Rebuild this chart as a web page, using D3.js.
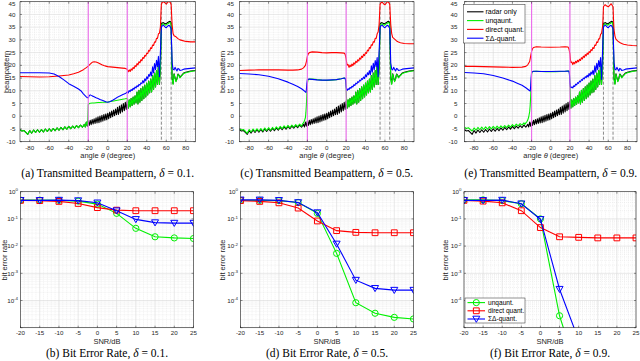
<!DOCTYPE html>
<html>
<head>
<meta charset="utf-8">
<script src="https://cdn.jsdelivr.net/npm/d3@7"></script>
<style>
  body { margin: 0; background: #fff; }
  svg { display: block; }
  text { font-family: "Liberation Sans", Arial, sans-serif; }
</style>
</head>
<body>
<svg class="fig" width="640" height="361"></svg>
<script>
// ---------- data ----------
var angleTicks = [-80, -60, -40, -20, 0, 20, 40, 60, 80];
var beamTicks = [-10, -5, 0, 5, 10, 15, 20, 25, 30, 35, 40, 45];
var snrTicks = [-20, -15, -10, -5, 0, 5, 10, 15, 20, 25];
var berTickExps = [0, -1, -2, -3, -4];
var sectorEdges = [-20, 20];     // magenta lines
var targetEdges = [55, 65];      // dashed lines

// radar only (same in all three beampattern panels)
var radarOnly = [
  [-90,-5.3],[-88,-5.8],[-86,-5.6],[-84,-6.3],[-82,-7.1],[-80,-5.6],[-78,-6.6],[-76,-5.4],[-74,-6.4],[-72,-5.3],
  [-70,-6.3],[-68,-5.2],[-66,-6.2],[-64,-5.0],[-62,-6.0],[-60,-4.9],[-58,-5.9],[-56,-4.8],[-54,-5.7],[-52,-4.6],
  [-50,-5.5],[-48,-4.4],[-46,-5.3],[-44,-4.2],[-42,-5.1],[-40,-4.0],[-38,-4.9],[-36,-3.9],[-34,-4.7],[-32,-3.7],
  [-30,-4.5],[-28,-3.5],[-26,-4.3],[-24,-3.2],
  [-23,-4.2],[-22,-2.3],[-21,-3.9],[-20,-1.9],[-19,-3.6],[-18,-1.6],[-17,-3.3],[-16,-1.3],[-15,-3.0],[-14,-1.0],
  [-13,-2.8],[-12,-0.6],[-11,-2.6],[-10,-0.2],[-9,-2.5],[-8,0.1],[-7,-2.2],[-6,0.4],[-5,-1.9],[-4,0.7],
  [-3,-1.6],[-2,0.9],[-1,-1.4],[0,1.2],[1,-1.0],[2,1.6],[3,-0.6],[4,2.0],[5,-0.2],[6,2.4],
  [7,0.2],[8,2.8],[9,0.6],[10,3.5],[11,0.7],[12,4.0],[13,1.2],[14,4.5],[15,1.7],[16,5.0],
  [17,2.2],[18,5.5],[19,2.7],[20,6.0],[21,3.2],[22,6.5],[23,3.7],[24,7.0],[25,4.2],[26,7.5],
  [27,4.7],[28,8.0],[29,5.2],[30,9.5],[31,4.8],[32,10.2],[33,5.5],[34,10.9],[35,6.2],[36,11.6],
  [37,6.9],[38,12.3],[39,7.6],[40,13.0],[41,8.4],[42,13.8],[43,9.2],[44,14.6],[45,9.5],[46,16.0],
  [47,10.5],[48,17.0],[49,11.5],[50,18.0],[51,12.5],[52,20.5],[53,12.5],[54,19.0],
  [54.5,28],[55,36.3],[56,36.6],[57,36.8],[58,36.5],[59,36.3],[60,36.4],[61,36.7],[62,36.9],[63,37.2],
  [64,37.3],[65,36.6],[65.5,26],[66,15],[67,12.8],[68,16.7],[69,15.2],[70,13.8],[71,14.8],[72,16.6],
  [73,16.2],[74,15.3],[76,16.2],[78,17],[80,17.3],[85,17.8],[90,18]
];

// unquantized: left tails for (c) and (e), middle parts per panel, shared main lobe
var unquantLeftC = [
  [-90,-4.9],[-88,-5.4],[-86,-5.2],[-84,-5.9],[-82,-6.7],[-80,-5.2],[-78,-6.2],[-76,-5.0],[-74,-6.0],[-72,-4.9],
  [-70,-5.9],[-68,-4.8],[-66,-5.8],[-64,-4.6],[-62,-5.6],[-60,-4.5],[-58,-5.5],[-56,-4.4],[-54,-5.3],[-52,-4.2],
  [-50,-5.1],[-48,-4.0],[-46,-4.9],[-44,-3.8],[-42,-4.7],[-40,-3.6],[-38,-4.5],[-36,-3.5],[-34,-4.3],[-32,-3.3],
  [-30,-4.1],[-28,-3.1],[-26,-3.9]
];
var unquantLeftE = [
  [-90,-4.3],[-88,-4.8],[-86,-4.5],[-84,-5.2],[-82,-5.8],[-80,-4.6],[-78,-5.5],[-76,-4.4],[-74,-5.3],[-72,-4.3],
  [-70,-5.2],[-68,-4.2],[-66,-5.1],[-64,-4.1],[-62,-5.0],[-60,-4.0],[-58,-4.9],[-56,-3.9],[-54,-4.8],[-52,-3.8],
  [-50,-4.6],[-48,-3.7],[-46,-4.5],[-44,-3.5],[-42,-4.3],[-40,-3.3],[-38,-4.1],[-36,-3.1],[-34,-3.8],[-32,-2.9],
  [-30,-3.5],[-28,-2.6]
];
var unquantMidA = [
  [-23,-4.2],[-22,-2.3],[-21,-3.6],[-20.5,-1.5],[-20,4.6],[-19,5.0],[-18,5.1],[-16,5.2],[-14,5.2],[-12,5.3],
  [-10,5.4],[-8,5.4],[-5,5.5],[-2,5.5],[0,5.6],[3,5.8],[6,6.0],[10,6.3],[14,6.6],[18,6.9],[20,7.1]
];
var unquantMidC = [
  [-25,-3.0],[-24,-2.6],[-23,-1.8],[-22,-0.5],[-21.5,1.5],[-21,4.5],[-20.5,9],[-20,12.8],[-19.5,14],[-19,14.4],
  [-18,14.6],[-15,14.6],[-12,14.5],[-10,14.4],[-5,14.2],[0,14.1],[5,14.2],[10,14.4],[15,14.7],[18,15.0],
  [19,14.9],[19.5,14.2],[20,11],[20.5,6]
];
var unquantMidE = [
  [-27,-3.2],[-26,-2.6],[-25,-2.2],[-24,-1.5],[-23,-0.3],[-22,1.8],[-21.5,4],[-21,7.5],[-20.5,12],[-20,16.3],
  [-19.5,17.3],[-19,17.6],[-15,17.7],[-10,17.6],[-5,17.5],[0,17.5],[5,17.5],[10,17.6],[15,17.7],[18,17.8],
  [19,17.8],[19.5,17],[20,13],[20.5,8]
];
var unquantLobe = [
  [54.5,27],[55,35.8],[56,36.1],[57,36.3],[58,36.0],[59,35.8],[60,35.9],[61,36.2],[62,36.4],[63,36.7],
  [64,36.8],[65,36.1],[65.5,25],[66,14.5],[67,12.5],[68,16.5],[69,15],[70,13.6],[71,14.6],[72,16.4],
  [73,16],[74,15.1],[76,16],[78,16.8],[80,17.1],[85,17.6],[90,17.9]
];

// direct quantization
var directA = [
  [-90,15.6],[-80,15.5],[-70,15.4],[-60,15.5],[-50,15.8],[-45,16.0],[-40,16.2],[-35,16.7],[-30,17.3],[-25,18.3],
  [-22,19.1],[-20,19.7],[-18,20.5],[-16,21.2],[-14,21.4],[-12,21.3],[-10,21.0],[-8,20.6],[-6,20.2],[-4,19.9],
  [-2,19.7],[0,19.5],[5,19.3],[10,19.1],[15,18.9],[18,18.8],[20,18.5],
  [21,17.5],[22,18.2],[23,17.6],[24,18.6],[25,18.1],[26,19.2],[27,18.7],[28,19.9],[29,19.5],[30,20.7],
  [31,20.2],[32,21.4],[33,21.0],[34,22.2],[35,21.8],[36,23.1],[37,22.7],[38,23.9],[39,23.6],[40,24.8],
  [41,24.6],[42,25.9],[43,25.6],[44,26.9],[45,26.6],[46,28.0],[47,27.8],[48,29.2],[49,29.1],[50,30.6],
  [51,30.6],[52,32.4],[53,32.6],[54,35],
  [54.5,40],[55,44],[56,44.8],[57,45],[58,44.8],[59,44.5],[60,44],[61,44.5],[62,45],[63,45],
  [64,44.8],[65,44],[65.5,40],[66,36],[67,32.5],[68,31.6],[70,31.2],[72,30.5],[74,30],[76,29.8],
  [80,29.4],[85,29.2],[90,29.2]
];
var directC = [
  [-90,18],[-80,18.1],[-70,18.2],[-60,18.2],[-50,18.2],[-40,18.1],[-35,18.1],[-30,18.2],[-26,18.5],[-24,19],
  [-22,20],[-21,21.5],[-20,23.5],[-19,24.5],[-18,25],[-15,25.3],[-10,25.2],[-5,25],[0,24.9],[5,25],
  [10,25],[15,24.9],[18,24.8],[19,24.3],[20,22.5],[20.5,21.2],
  [21,20.1],[22,20.3],[23,19.2],[24,20.1],[25,19.5],[26,20.5],[27,19.9],[28,21.0],[29,20.5],[30,21.6],
  [31,21.1],[32,22.2],[33,21.7],[34,22.9],[35,22.4],[36,23.6],[37,23.1],[38,24.3],[39,23.8],[40,25.0],
  [41,24.7],[42,26.0],[43,25.7],[44,27.0],[45,26.7],[46,28.1],[47,27.9],[48,29.3],[49,29.1],[50,30.6],
  [51,30.6],[52,32.4],[53,33.1],[54,36],
  [54.5,40],[55,44],[56,44.6],[57,44.8],[58,44.5],[59,44],[60,43.8],[61,44.2],[62,44.8],[63,45],
  [64,44.6],[65,44],[65.5,40],[66,36],[67,32.5],[68,31],[70,30.3],[72,29.6],[74,29.2],[76,28.9],
  [80,28.6],[85,28.5],[90,28.5]
];
var directE = [
  [-90,19.6],[-80,19.6],[-70,19.5],[-60,19.4],[-50,19.3],[-40,19.2],[-30,19.3],[-26,19.6],[-24,20.2],[-22,21.5],
  [-21,23.5],[-20,25.5],[-19,26.5],[-18,27],[-15,27.3],[-10,27.2],[0,27.1],[10,27.2],[15,27.3],[18,27.2],
  [19,26.5],[20,24.5],[20.5,22.5],
  [21,21.1],[22,21.3],[23,20.3],[24,21.2],[25,20.6],[26,21.6],[27,21.0],[28,22.0],[29,21.4],[30,22.4],
  [31,21.9],[32,23.0],[33,22.5],[34,23.6],[35,23.1],[36,24.2],[37,23.7],[38,24.8],[39,24.3],[40,25.4],
  [41,25.0],[42,26.2],[43,25.8],[44,27.0],[45,26.6],[46,28.0],[47,27.8],[48,29.2],[49,29.0],[50,30.4],
  [51,30.4],[52,32.2],[53,32.6],[54,35],
  [54.5,38],[55,43],[56,43.6],[57,43.8],[58,43.4],[59,43.2],[60,43],[61,43.4],[62,43.8],[63,44.2],
  [64,43.6],[65,43],[65.5,38],[66,34],[67,31.5],[68,30.3],[70,29.5],[72,29],[74,28.6],[76,28.3],
  [80,28],[85,27.8],[90,27.7]
];

// sigma-delta quantization
var sigmaDeltaA = [
  [-90,17.1],[-80,17.1],[-70,17.1],[-60,17],[-55,16.6],[-50,15.6],[-45,14.3],[-40,12.8],[-37,12.2],[-35,11.8],
  [-30,10.7],[-27,9.8],[-25,8.8],[-22,7.6],[-20,7.2],[-19,8.1],[-18,8.4],[-16,8.0],[-14,7.7],[-12,7.3],
  [-10,7.0],[-8,6.6],[-5,6.2],[-2,5.7],[0,5.5],[2,5.7],[5,6.3],[8,7.0],[10,7.5],[12,7.9],
  [15,8.4],[18,8.9],[19.5,9.3],
  [20,9.6],[21,9.2],[22,10.1],[23,9.7],[24,10.5],[25,10.1],[26,11.0],[27,10.6],[28,11.5],[29,11.1],
  [30,12.0],[31,11.6],[32,12.5],[33,12.2],[34,13.1],[35,12.8],[36,14.0],[37,13.1],[38,14.7],[39,13.9],
  [40,15.5],[41,14.7],[42,16.4],[43,15.7],[44,17.4],[45,15.8],[46,19.4],[47,17.0],[48,20.7],[49,18.3],
  [50,22.0],[51,19.5],[52,23.5],[53,15.5]
];
var sigmaDeltaC = [
  [-90,16.8],[-80,16.6],[-70,16.3],[-60,15.7],[-50,14.7],[-40,13.4],[-35,12.6],[-30,11.7],[-26,10.8],[-23,9.9],
  [-21.5,9.4],[-21,10.5],[-20.5,13],[-20,14.4],[-18,14.6],[-15,14.5],[-10,14.3],[-5,14.2],[0,14.2],[5,14.3],
  [10,14.4],[15,14.7],[18,15],[19,14.9],[19.5,14],[20,11.5],[20.5,10.6],
  [21,10.1],[22,10.8],[23,10.5],[24,11.3],[25,11.0],[26,11.8],[27,11.5],[28,12.4],[29,12.1],[30,13.0],
  [31,12.7],[32,13.6],[33,13.3],[34,14.2],[35,13.9],[36,14.8],[37,14.5],[38,15.4],[39,14.8],[40,16.3],
  [41,15.5],[42,17.1],[43,16.3],[44,17.9],[45,16.3],[46,19.8],[47,17.3],[48,20.8],[49,18.3],[50,21.9],
  [51,19.5],[52,23.1],[53,15.5]
];
var sigmaDeltaE = [
  [-90,17.2],[-80,17],[-70,16.7],[-60,16],[-50,15],[-40,13.8],[-35,13],[-30,12.2],[-26,11.2],[-23,10.3],
  [-21.5,9.9],[-21,11.5],[-20.5,15],[-20,17.3],[-18,17.7],[-15,17.7],[-10,17.6],[0,17.6],[10,17.7],[15,17.7],
  [18,17.8],[19,17.7],[19.5,16.5],[20,13],[20.5,11.5],
  [21,11.2],[22,11.5],[23,11.1],[24,12.0],[25,11.7],[26,12.6],[27,12.3],[28,13.2],[29,12.9],[30,13.8],
  [31,13.5],[32,14.4],[33,14.1],[34,15.0],[35,14.7],[36,15.5],[37,15.2],[38,16.1],[39,15.4],[40,16.8],
  [41,15.9],[42,17.4],[43,16.5],[44,18.0],[45,16.3],[46,19.8],[47,17.3],[48,20.8],[49,18.3],[50,21.9],
  [51,19.5],[52,23.1],[53,14.5]
];
var sigmaDeltaLobe = [
  [54.5,30],[55,35],[56,35.6],[57,35.8],[58,35.4],[59,35],[60,34.8],[61,35.2],[62,35.6],[63,35.7],
  [64,35.2],[65,34.5],[65.5,28],[66,21],[67,18.5],[68,18.2],[69,19.2],[70,18.5],[71,17.8],[72,18.8],
  [73,18.6],[74,18],[76,18.2],[78,18.5],[80,18.6],[85,18.8],[90,19]
];

// bit error rate vs SNR (null = zero errors, not drawn on log axis)
var berUnquantB = [0.49, 0.49, 0.48, 0.45, 0.35, 0.16, 0.045, 0.022, 0.020, 0.019];
var berDirectB  = [0.48, 0.47, 0.44, 0.37, 0.26, 0.21, 0.20, 0.20, 0.20, 0.20];
var berSigmaB   = [0.48, 0.48, 0.49, 0.47, 0.39, 0.20, 0.096, 0.073, 0.070, 0.070];

var berUnquantD = [0.48, 0.48, 0.47, 0.40, 0.16, 0.0054, 8.3e-5, 3.4e-5, 2.4e-5, 2.1e-5];
var berDirectD  = [0.47, 0.44, 0.39, 0.25, 0.084, 0.037, 0.032, 0.031, 0.031, 0.031];
var berSigmaD   = [0.50, 0.50, 0.48, 0.40, 0.17, 0.012, 5.6e-4, 2.8e-4, 2.4e-4, 2.4e-4];

var berUnquantF = [0.50, 0.50, 0.47, 0.36, 0.10, 2.75e-5, 1.7e-7, null, null, null];
var berDirectF  = [0.48, 0.45, 0.39, 0.20, 0.048, 0.022, 0.021, 0.020, 0.020, 0.020];
var berSigmaF   = [0.48, 0.48, 0.49, 0.36, 0.096, 2.6e-4, 3.5e-6, null, null, null];

var beamNames = ["radar only", "unqaunt.", "direct quant.", "\u03A3\u0394-quant."];
var berNames = ["unqaunt.", "direct quant.", "\u03A3\u0394-quant."];

// ---------- style ----------
var colRadar = "#000000", colUnq = "#00f000", colDirect = "#ff0000", colSD = "#0000ff";
var axisCol = "#262626";

var svg = d3.select(".fig");

function frame(id, x, y, xMajor, xMinor, yMajor, yMinor) {
  var left = x.range()[0], right = x.range()[1];
  var bottom = y.range()[0], top = y.range()[1];
  var g = svg.append("g").attr("class", "panel-" + id);
  g.append("rect").attr("x", left).attr("y", top)
    .attr("width", right - left).attr("height", bottom - top).attr("fill", "#fff");

  xMinor.forEach(function(v) {
    g.append("line").attr("x1", x(v)).attr("x2", x(v)).attr("y1", top).attr("y2", bottom)
      .attr("stroke", "#e2e2e2").attr("stroke-width", 0.5).attr("stroke-dasharray", "1,1");
  });
  yMinor.forEach(function(v) {
    g.append("line").attr("x1", left).attr("x2", right).attr("y1", y(v)).attr("y2", y(v))
      .attr("stroke", "#e2e2e2").attr("stroke-width", 0.5).attr("stroke-dasharray", "1,1");
  });
  xMajor.forEach(function(v) {
    g.append("line").attr("x1", x(v)).attr("x2", x(v)).attr("y1", top).attr("y2", bottom)
      .attr("stroke", "#d8d8d8").attr("stroke-width", 0.6);
  });
  yMajor.forEach(function(v) {
    g.append("line").attr("x1", left).attr("x2", right).attr("y1", y(v)).attr("y2", y(v))
      .attr("stroke", "#d8d8d8").attr("stroke-width", 0.6);
  });

  svg.append("clipPath").attr("id", "clip-" + id).append("rect")
    .attr("x", left).attr("y", top).attr("width", right - left).attr("height", bottom - top);
  var plot = g.append("g").attr("clip-path", "url(#clip-" + id + ")");
  return {g: g, plot: plot, left: left, right: right, top: top, bottom: bottom};
}

function box(p, x, y, xMajor, yMajor) {
  xMajor.forEach(function(v) {
    p.g.append("line").attr("x1", x(v)).attr("x2", x(v)).attr("y1", p.bottom).attr("y2", p.bottom - 2)
      .attr("stroke", axisCol).attr("stroke-width", 0.5);
    p.g.append("line").attr("x1", x(v)).attr("x2", x(v)).attr("y1", p.top).attr("y2", p.top + 2)
      .attr("stroke", axisCol).attr("stroke-width", 0.5);
  });
  yMajor.forEach(function(v) {
    p.g.append("line").attr("x1", p.left).attr("x2", p.left + 2).attr("y1", y(v)).attr("y2", y(v))
      .attr("stroke", axisCol).attr("stroke-width", 0.5);
    p.g.append("line").attr("x1", p.right).attr("x2", p.right - 2).attr("y1", y(v)).attr("y2", y(v))
      .attr("stroke", axisCol).attr("stroke-width", 0.5);
  });
  p.g.append("rect").attr("x", p.left).attr("y", p.top)
    .attr("width", p.right - p.left).attr("height", p.bottom - p.top)
    .attr("fill", "none").attr("stroke", axisCol).attr("stroke-width", 0.6);
}

function caption(cx, yb, letter, delta, title) {
  var t = svg.append("text").attr("x", cx).attr("y", yb).attr("text-anchor", "middle")
    .style("font-family", "'Liberation Serif', 'Times New Roman', serif").style("font-size", "11.5px")
    .attr("fill", "#000");
  t.append("tspan").text("(" + letter + ") " + title + ", ");
  t.append("tspan").style("font-style", "italic").text("\u03B4");
  t.append("tspan").text(" = " + delta + ".");
}

// ---------- beampattern panels ----------
function beamPanel(id, x0, x1, ylabX, tickEnd, capLetter, delta, curves, withLegend) {
  var x = d3.scaleLinear().domain([-90, 90]).range([x0, x1]);
  var y = d3.scaleLinear().domain([-10, 45]).range([141.7, 1.7]);
  var xMinor = d3.range(-90, 91, 5).filter(function(v) { return v % 20 !== 0; });
  var yMinor = d3.range(-10, 46, 1).filter(function(v) { return v % 5 !== 0; });
  var p = frame(id, x, y, angleTicks, xMinor, beamTicks, yMinor);

  targetEdges.forEach(function(v) {
    p.plot.append("line").attr("x1", x(v)).attr("x2", x(v)).attr("y1", p.top).attr("y2", p.bottom)
      .attr("stroke", "#707070").attr("stroke-width", 0.8).attr("stroke-dasharray", "3,2");
  });

  var line = d3.line().x(function(d) { return x(d[0]); }).y(function(d) { return y(d[1]); });
  var cols = [colRadar, colUnq, colDirect, colSD];
  curves.forEach(function(c, i) {
    p.plot.append("path").datum(c).attr("d", line).attr("fill", "none")
      .attr("stroke", cols[i]).attr("stroke-width", 1.1).attr("stroke-linejoin", "round");
  });

  sectorEdges.forEach(function(v) {
    p.plot.append("line").attr("x1", x(v)).attr("x2", x(v)).attr("y1", p.top).attr("y2", p.bottom)
      .attr("stroke", "#ec6cec").attr("stroke-width", 1.1);
  });

  box(p, x, y, angleTicks, beamTicks);

  p.g.selectAll(".xt").data(angleTicks).enter().append("text")
    .attr("x", function(d) { return x(d); }).attr("y", 149.5).attr("text-anchor", "middle")
    .style("font-size", "6.2px").attr("fill", axisCol).text(function(d) { return d; });
  // top label kept just inside the picture
  p.g.selectAll(".yt").data(beamTicks).enter().append("text")
    .attr("x", tickEnd).attr("y", function(d) { return Math.max(y(d) + 2.1, 5.6); })
    .attr("text-anchor", "end")
    .style("font-size", "6.2px").attr("fill", axisCol).text(function(d) { return d; });

  var xl = p.g.append("text").attr("x", (x0 + x1) / 2).attr("y", 158).attr("text-anchor", "middle")
    .style("font-size", "7.5px").attr("fill", axisCol);
  xl.append("tspan").text("angle ");
  xl.append("tspan").style("font-style", "italic").text("\u03B8");
  xl.append("tspan").text(" (degree)");

  p.g.append("text").attr("transform", "translate(" + ylabX + ",72)rotate(-90)")
    .attr("text-anchor", "middle").style("font-size", "7.5px").attr("fill", axisCol).text("beampattern");

  caption((x0 + x1) / 2, 177, capLetter, delta, "Transmitted Beampattern");

  if (withLegend) {
    var lg = p.g.append("g");
    lg.append("rect").attr("x", 463.5).attr("y", 4.5).attr("width", 61.5).attr("height", 38.5)
      .attr("fill", "#fff").attr("stroke", axisCol).attr("stroke-width", 0.5);
    beamNames.forEach(function(nm, i) {
      var yy = 11.8 + i * 8.8;
      lg.append("line").attr("x1", 467).attr("x2", 483.5).attr("y1", yy).attr("y2", yy)
        .attr("stroke", cols[i]).attr("stroke-width", 1.1);
      lg.append("text").attr("x", 485.5).attr("y", yy + 2.4).style("font-size", "7px")
        .attr("fill", "#000").text(nm);
    });
  }
}

// ---------- BER panels ----------
function markerPath(kind) {
  if (kind === "circle") return d3.symbol().type(d3.symbolCircle).size(Math.PI * 3.1 * 3.1)();
  if (kind === "square") return "M-2.9,-2.9H2.9V2.9H-2.9Z";
  return "M-3.5,-2.8H3.5L0,3.3Z";
}

function berPanel(id, x0, x1, ylabX, capLetter, delta, series, withLegend) {
  var x = d3.scaleLinear().domain([-20, 25]).range([x0, x1]);
  var y = d3.scaleLog().domain([1e-5, 1]).range([327.7, 191.7]);
  var xMinor = d3.range(-20, 26, 1).filter(function(v) { return v % 5 !== 0; });
  var yMajor = [1e-5, 1e-4, 1e-3, 1e-2, 1e-1, 1];
  var yMinor = [];
  [-5, -4, -3, -2, -1].forEach(function(e) {
    d3.range(2, 10).forEach(function(m) { yMinor.push(m * Math.pow(10, e)); });
  });
  var p = frame(id, x, y, snrTicks, xMinor, yMajor, yMinor);

  var cols = [colUnq, colDirect, colSD];
  var kinds = ["circle", "square", "tri"];
  series.forEach(function(s, i) {
    var pts = snrTicks.map(function(v, k) { return [v, s[k]]; });
    var line = d3.line().defined(function(d) { return d[1] != null; })
      .x(function(d) { return x(d[0]); }).y(function(d) { return y(d[1]); });
    p.plot.append("path").datum(pts).attr("d", line).attr("fill", "none")
      .attr("stroke", cols[i]).attr("stroke-width", 1.1);
    p.plot.selectAll(".m" + i).data(pts.filter(function(d) { return d[1] != null; })).enter()
      .append("path").attr("d", markerPath(kinds[i]))
      .attr("transform", function(d) { return "translate(" + x(d[0]) + "," + y(d[1]) + ")"; })
      .attr("fill", "none").attr("stroke", cols[i]).attr("stroke-width", 1);
  });

  box(p, x, y, snrTicks, yMajor);

  p.g.selectAll(".xt").data(snrTicks).enter().append("text")
    .attr("x", function(d) { return x(d); }).attr("y", 334.5).attr("text-anchor", "middle")
    .style("font-size", "6.2px").attr("fill", axisCol).text(function(d) { return d; });
  berTickExps.forEach(function(e) {
    var t = p.g.append("text").attr("x", x0 - 2.5).attr("y", y(Math.pow(10, e)) + 2.2)
      .attr("text-anchor", "end").style("font-size", "6.2px").attr("fill", axisCol);
    t.append("tspan").text("10");
    t.append("tspan").attr("dy", -2.6).style("font-size", "4.4px").text(e);
  });

  p.g.append("text").attr("x", (x0 + x1) / 2).attr("y", 344).attr("text-anchor", "middle")
    .style("font-size", "7.5px").attr("fill", axisCol).text("SNR/dB");
  p.g.append("text").attr("transform", "translate(" + ylabX + ",260)rotate(-90)")
    .attr("text-anchor", "middle").style("font-size", "7.5px").attr("fill", axisCol).text("bit error rate");

  caption((x0 + x1) / 2, 357, capLetter, delta, "Bit Error Rate");

  if (withLegend) {
    var lg = p.g.append("g");
    lg.append("rect").attr("x", 465).attr("y", 298).attr("width", 60).attr("height", 25)
      .attr("fill", "#fff").attr("stroke", axisCol).attr("stroke-width", 0.5);
    berNames.forEach(function(nm, i) {
      var yy = 302.6 + i * 8.2;
      lg.append("line").attr("x1", 467.5).attr("x2", 485).attr("y1", yy).attr("y2", yy)
        .attr("stroke", cols[i]).attr("stroke-width", 1.1);
      lg.append("path").attr("d", markerPath(kinds[i])).attr("transform", "translate(476.3," + yy + ")")
        .attr("fill", "none").attr("stroke", cols[i]).attr("stroke-width", 1);
      lg.append("text").attr("x", 488).attr("y", yy + 2.3).style("font-size", "6.6px")
        .attr("fill", "#000").text(nm);
    });
  }
}

// green curve coincides with radar-only outside the sector
var radarLeft = radarOnly.filter(function(d) { return d[0] <= -24; });
var radarRight = radarOnly.filter(function(d) { return d[0] >= 21 && d[0] <= 54; });

var unquantA = radarLeft.concat(unquantMidA, radarRight, unquantLobe);
var unquantC = unquantLeftC.concat(unquantMidC, radarRight, unquantLobe);
var unquantE = unquantLeftE.concat(unquantMidE, radarRight, unquantLobe);

beamPanel("a", 20, 195.5, 8.5, 15.5, "a", "0.1",
  [radarOnly, unquantA, directA, sigmaDeltaA.concat(sigmaDeltaLobe)], false);
beamPanel("c", 239.5, 414, 225, 234, "c", "0.5",
  [radarOnly, unquantC, directC, sigmaDeltaC.concat(sigmaDeltaLobe)], false);
beamPanel("e", 464.5, 637, 448, 457.5, "e", "0.9",
  [radarOnly, unquantE, directE, sigmaDeltaE.concat(sigmaDeltaLobe)], true);

berPanel("b", 20.5, 193.5, 7, "b", "0.1", [berUnquantB, berDirectB, berSigmaB], false);
berPanel("d", 240.5, 413.5, 225, "d", "0.5", [berUnquantD, berDirectD, berSigmaD], false);
berPanel("f", 464, 636, 448, "f", "0.9", [berUnquantF, berDirectF, berSigmaF], true);
</script>
</body>
</html>
